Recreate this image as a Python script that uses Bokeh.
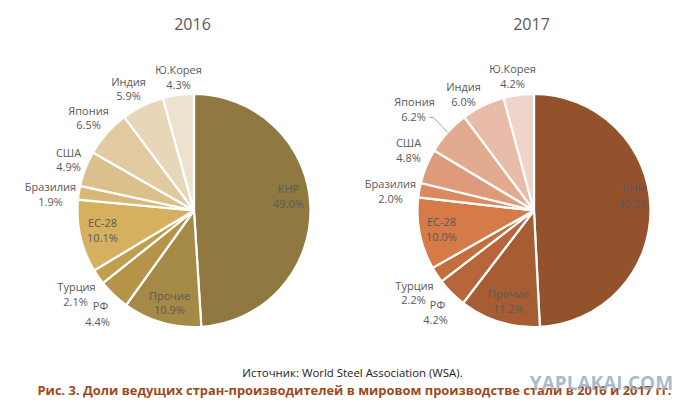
import math
from bokeh.plotting import figure
from bokeh.models import Range1d
from bokeh.core.properties import value
from bokeh.embed import file_html
from bokeh.resources import INLINE

# ---- data ----
countries = ["КНР", "Прочие", "РФ", "Турция", "ЕС-28", "Бразилия", "США", "Япония", "Индия", "Ю.Корея"]
share_2016 = [49.0, 10.9, 4.4, 2.1, 10.1, 1.9, 4.9, 6.5, 5.9, 4.3]
share_2017 = [49.2, 11.2, 4.2, 2.2, 10.0, 2.0, 4.8, 6.2, 6.0, 4.2]
years = ["2016", "2017"]
source_text = "Источник: World Steel Association (WSA)."
caption_text = "Рис. 3. Доли ведущих стран-производителей в мировом производстве стали в 2016 и 2017 гг."
watermark_text = "YAPLAKAI.COM"

# ---- styles / layout ----
colors_2016 = ["#8f7940", "#a58946", "#b59449", "#c19d4e", "#d4b05f", "#d8b878",
               "#dcc08b", "#e1ca9f", "#e7d7b8", "#ece2cd"]
colors_2017 = ["#93522c", "#a65d33", "#b6663a", "#c36e3f", "#d67a48", "#d98a63",
               "#de9a7b", "#e2aa8f", "#e8bca8", "#eed4c9"]

W, H = 679, 398
def Y(y):
    return H - y

centers = [(193.5, 210.0), (533.5, 210.0)]
R = 116.5

name_pos = [
    [(288, 188), (169, 295), (100, 305), (76, 286), (102, 222), (50, 186), (68, 152), (88, 110), (128, 81), (178, 69)],
    [(633, 188), (508, 293), (437, 304), (414, 285), (441, 221), (390, 183), (408, 142), (414, 101), (463, 86), (512, 68)],
]
pct_pos = [
    [(288, 203), (169, 309), (97, 321), (75, 301), (102, 237), (50, 201), (68, 166), (88, 124), (128, 95), (178, 84)],
    [(633, 203), (508, 308), (435, 319), (413, 299), (441, 236), (390, 198), (408, 157), (413, 116), (463, 101), (512, 83)],
]
title_pos = [(192, 23), (531, 23)]

p = figure(width=W, height=H, output_backend="svg", toolbar_location=None,
           x_range=Range1d(0, W), y_range=Range1d(0, H),
           min_border=0, min_border_left=0, min_border_right=0,
           min_border_top=0, min_border_bottom=0)
p.axis.visible = False
p.grid.visible = False
p.outline_line_color = None
p.background_fill_color = "white"
p.border_fill_color = "white"

FONT = value("Open Sans")

for k, (shares, cols) in enumerate([(share_2016, colors_2016), (share_2017, colors_2017)]):
    cx, cy = centers[k]
    total = sum(shares)
    starts, ends = [], []
    cum = 0.0
    for s in shares:
        a0 = math.pi / 2 - 2 * math.pi * (cum + s) / total
        a1 = math.pi / 2 - 2 * math.pi * cum / total
        starts.append(a0)
        ends.append(a1)
        cum += s
    p.wedge(x=[cx] * len(shares), y=[Y(cy)] * len(shares), radius=R,
            start_angle=starts, end_angle=ends, fill_color=cols,
            line_color="white", line_width=2.2)

    nx = [q[0] for q in name_pos[k]]
    ny = [Y(q[1]) for q in name_pos[k]]
    px_ = [q[0] for q in pct_pos[k]]
    py_ = [Y(q[1]) for q in pct_pos[k]]
    pct = [f"{s:.1f}%" for s in shares]
    p.text(x=nx, y=ny, text=countries, text_font=FONT, text_font_size="11px",
           text_color="#595959", text_align="center", text_baseline="middle")
    p.text(x=px_, y=py_, text=pct, text_font=FONT, text_font_size="11px",
           text_color="#595959", text_align="center", text_baseline="middle")

    tx, ty = title_pos[k]
    p.text(x=[tx], y=[Y(ty)], text=[years[k]], text_font=FONT, text_font_size="16px",
           text_color="#595959", text_align="center", text_baseline="middle")

# leader line for Япония 2017
shares = share_2017
idx = countries.index("Япония")
cum_before = sum(shares[:idx])
mid = (cum_before + shares[idx] / 2) / sum(shares)
theta = 2 * math.pi * mid
cx, cy = centers[1]
ex = cx + R * math.sin(theta)
ey = cy - R * math.cos(theta)
lx, ly = pct_pos[1][idx]
p.line(x=[lx + 16, lx + 20, ex], y=[Y(ly + 1), Y(ly + 1), Y(ey)], line_color="#a6a6a6", line_width=1)

# footer texts
p.text(x=[352], y=[Y(372)], text=[source_text], text_font=FONT, text_font_size="11.4px",
       text_color="#1a1a1a", text_align="center", text_baseline="middle")
p.text(x=[354], y=[Y(389)], text=[caption_text], text_font=FONT, text_font_size="12.9px",
       text_font_style="bold", text_color="#9b4a1c", text_align="center", text_baseline="middle")
p.text(x=[601], y=[Y(382)], text=[watermark_text], text_font=FONT, text_font_size="19px",
       text_font_style="bold", text_color="#9aaec4", text_alpha=0.85,
       text_align="center", text_baseline="middle")

open("out.html", "w").write(file_html(p, INLINE))
